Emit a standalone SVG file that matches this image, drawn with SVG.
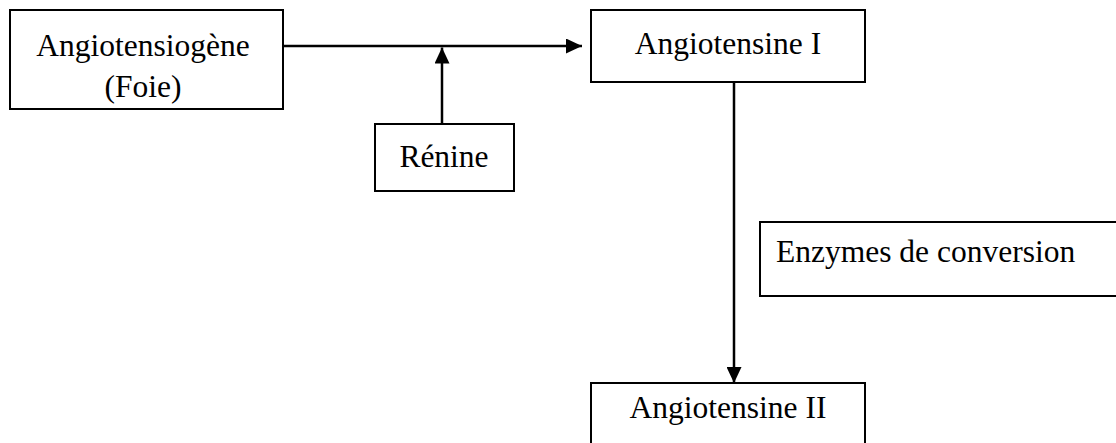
<svg xmlns="http://www.w3.org/2000/svg" width="1116" height="443" viewBox="0 0 1116 443">
<defs>
<style>
.box{fill:#fff;stroke:#000;stroke-width:2}
.t{font-family:"Liberation Serif","Times New Roman",serif;font-size:31.5px;fill:#000}
.c{stroke:#000;stroke-width:2.5;fill:none}
</style>
<marker id="ah" viewBox="0 0 16 15" refX="16" refY="7.5" markerWidth="16" markerHeight="15" markerUnits="userSpaceOnUse" orient="auto">
<path d="M0,0 L16,7.5 L0,15 Z" fill="#000"/>
</marker>
</defs>
<rect width="1116" height="443" fill="#fff"/>
<g id="angiotensiogene">
<rect class="box" x="10" y="10" width="273" height="99"/>
<text class="t" x="143" y="56" text-anchor="middle">Angiotensiogène</text>
<text class="t" x="143" y="97" text-anchor="middle">(Foie)</text>
</g>
<g id="renine">
<rect class="box" x="375" y="124" width="139" height="67"/>
<text class="t" x="444" y="167" text-anchor="middle">Rénine</text>
</g>
<g id="angiotensine1">
<rect class="box" x="591" y="10" width="274" height="72"/>
<text class="t" x="728" y="54" text-anchor="middle">Angiotensine I</text>
</g>
<g id="enzymes">
<rect class="box" x="760" y="222" width="370" height="74"/>
<text class="t" x="776" y="262">Enzymes de conversion</text>
</g>
<g id="angiotensine2">
<rect class="box" x="591" y="383" width="274" height="80"/>
<text class="t" x="728" y="418" text-anchor="middle">Angiotensine II</text>
</g>
<g id="connectors">
<line class="c" x1="283" y1="46" x2="582" y2="46" marker-end="url(#ah)"/>
<line class="c" x1="442" y1="124" x2="442" y2="47.5" marker-end="url(#ah)"/>
<line class="c" x1="734" y1="82" x2="734" y2="383" marker-end="url(#ah)"/>
</g>
</svg>
